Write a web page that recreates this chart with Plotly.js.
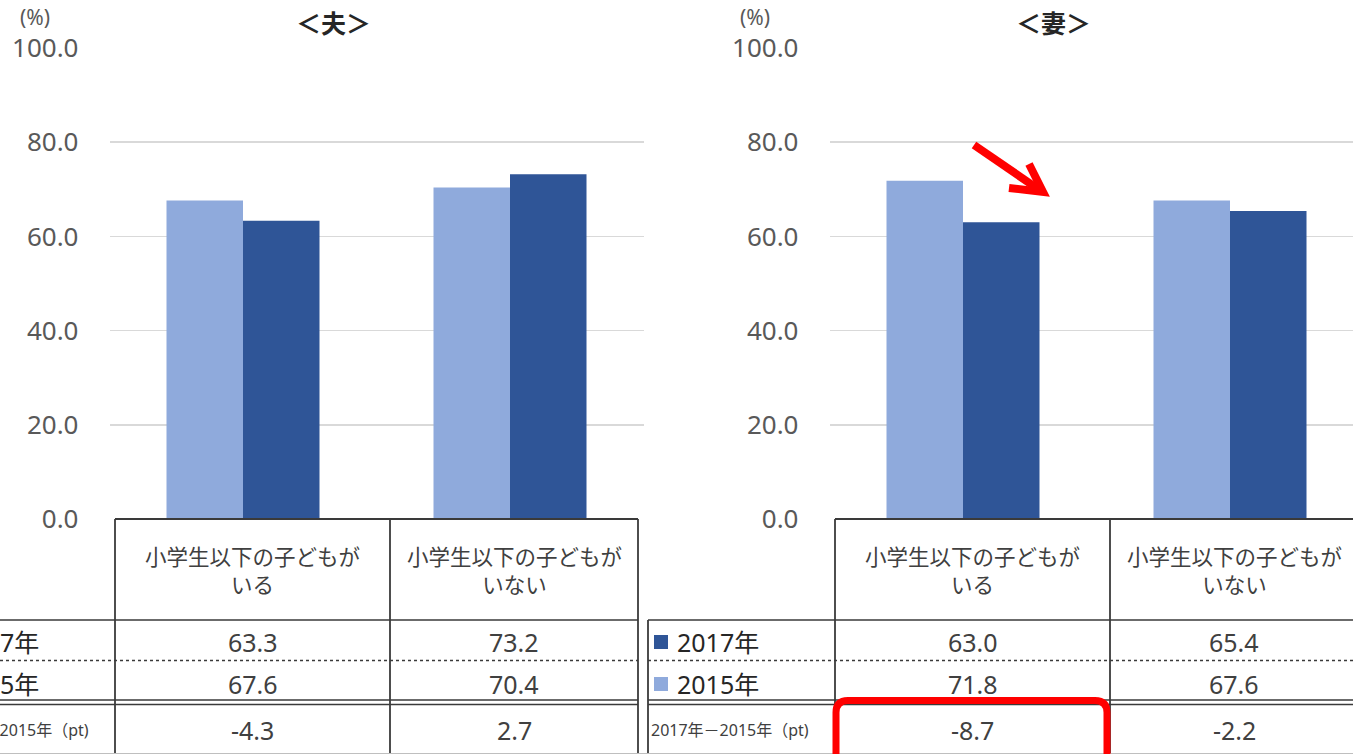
<!DOCTYPE html>
<html><head><meta charset="utf-8">
<script src="https://cdn.plot.ly/plotly-3.0.1.min.js"></script>
<style>html,body{margin:0;padding:0;background:#fff;overflow:hidden}#chart{width:1353px;height:754px}</style>
</head><body><div id="chart"></div>
<script>
// ---- data ----
const categories = ["小学生以下の子どもが<br>いる", "小学生以下の子どもが<br>いない"];
const panelTitles = ["＜夫＞", "＜妻＞"];
const seriesNames = ["2017年", "2015年"];
const husband2017 = [63.3, 73.2];
const husband2015 = [67.6, 70.4];
const wife2017 = [63.0, 65.4];
const wife2015 = [71.8, 67.6];
const husbandDiff = [-4.3, 2.7];
const wifeDiff = [-8.7, -2.2];
const diffLabel = "2017年－2015年（pt)";
const yTickVals = [0, 20, 40, 60, 80, 100];
const unitLabel = "(%)";

// ---- styling / layout constants ----
const W = 1353, H = 754;
const px = x => x / W;
const py = y => 1 - y / H;
const FONT = "'Noto Sans', 'Noto Sans CJK JP', sans-serif";
const DARK = "#2F5597", LIGHT = "#8FAADC";
const LINE = "#3a3a3a";
const panelOffset = [0, 720];
const plotLeft = 109.5, plotRight = 643.5;
const catWidth = (plotRight - plotLeft) / categories.length;
const yTop = 48, yZero = 519;
const colEdges = [115, 390, 638];
const labelLeft = -72;
const rowY = {header: 570, r2017: 642, r2015: 684, diff: 730};

const panels = [
  {s2017: husband2017, s2015: husband2015, diff: husbandDiff},
  {s2017: wife2017, s2015: wife2015, diff: wifeDiff}
];

const traces = [];
const shapes = [];
const annotations = [];
const layout = {
  width: W, height: H,
  margin: {l: 0, r: 0, t: 0, b: 0},
  paper_bgcolor: "#fff", plot_bgcolor: "rgba(0,0,0,0)",
  font: {family: FONT, color: "#404040"},
  barmode: "group", bargap: 0.427, bargroupgap: 0,
  showlegend: false,
  shapes: shapes, annotations: annotations
};

function hline(x0, x1, y, opts) {
  shapes.push(Object.assign({type: "line", xref: "paper", yref: "paper",
    x0: px(x0), x1: px(x1), y0: py(y), y1: py(y),
    line: {color: LINE, width: 1.6}}, opts || {}));
}
function vline(x, y0, y1, opts) {
  shapes.push(Object.assign({type: "line", xref: "paper", yref: "paper",
    x0: px(x), x1: px(x), y0: py(y0), y1: py(y1),
    line: {color: LINE, width: 1.8}}, opts || {}));
}
function text(t, x, y, size, opts) {
  annotations.push(Object.assign({text: t, xref: "paper", yref: "paper",
    x: px(x), y: py(y), xanchor: "center", yanchor: "middle", showarrow: false,
    font: {size: size, color: "#404040", family: FONT}}, opts || {}));
}

panels.forEach((p, k) => {
  const off = panelOffset[k];
  const sfx = k === 0 ? "" : "2";
  const d0 = px(plotLeft + off), d1 = Math.min(1, px(plotRight + off));
  const spanPx = (d1 - d0) * W;
  layout["xaxis" + sfx] = {
    domain: [d0, d1], type: "category", anchor: "y" + sfx,
    range: [-0.5, -0.5 + spanPx / catWidth],
    showticklabels: false, showgrid: false, zeroline: false, showline: false, fixedrange: true
  };
  layout["yaxis" + sfx] = {
    domain: [py(yZero), py(yTop)], range: [0, 100], anchor: "x" + sfx,
    tickvals: yTickVals, tickformat: ".1f", ticks: "", ticklabelstandoff: 30,
    showgrid: true, gridcolor: "#d9d9d9", gridwidth: 1.5, zeroline: false, showline: false,
    tickfont: {size: 26, color: "#595959", family: FONT}, fixedrange: true
  };
  traces.push({type: "bar", name: seriesNames[1], x: categories, y: p.s2015,
    xaxis: "x" + sfx, yaxis: "y" + sfx, marker: {color: LIGHT}, hoverinfo: "skip"});
  traces.push({type: "bar", name: seriesNames[0], x: categories, y: p.s2017,
    xaxis: "x" + sfx, yaxis: "y" + sfx, marker: {color: DARK}, hoverinfo: "skip"});

  // titles
  text(panelTitles[k], 333 + off, 23, 25, {font: {size: 25, color: "#262626", family: FONT, weight: "bold"}});
  text(unitLabel, 35 + off, 17, 21, {font: {size: 21, color: "#595959", family: FONT}});

  // table lines
  const right = Math.min(colEdges[2] + off, W + 5);
  hline(colEdges[0] + off, right, yZero, {line: {color: LINE, width: 2.2}});
  hline(labelLeft + off, right, 620);
  hline(labelLeft + off, right, 660.5, {line: {color: LINE, width: 1.5, dash: "dot"}});
  hline(labelLeft + off, right, 700, {line: {color: LINE, width: 1.5}});
  hline(labelLeft + off, right, 704.5, {line: {color: LINE, width: 1.5}});
  vline(labelLeft + off, 620, 760);
  colEdges.forEach(c => vline(c + off, yZero, 760));

  // header + values
  categories.forEach((c, i) => {
    const cx = (colEdges[i] + colEdges[i + 1]) / 2 + off;
    text(c, cx, rowY.header, 21.5, {font: {size: 21.5, color: "#404040", family: FONT}});
    text(p.s2017[i].toFixed(1), cx, rowY.r2017, 25);
    text(p.s2015[i].toFixed(1), cx, rowY.r2015, 25);
    text(p.diff[i].toFixed(1), cx, rowY.diff, 25);
  });

  // row labels with legend keys
  [[seriesNames[0], DARK, rowY.r2017], [seriesNames[1], LIGHT, rowY.r2015]].forEach(([lab, col, y]) => {
    shapes.push({type: "rect", xref: "paper", yref: "paper",
      x0: px(-66 + off), x1: px(-52 + off), y0: py(y - 7), y1: py(y + 7),
      fillcolor: col, line: {width: 0}});
    text(lab, -45 + off, y, 25, {xanchor: "left", font: {size: 25, color: "#262626", family: FONT}});
  });
  text(diffLabel, -71 + off, rowY.diff, 16, {xanchor: "left", font: {size: 16, color: "#404040", family: FONT}});
});

// bottom light border
hline(0, W, 753.5, {line: {color: "#bfbfbf", width: 1}});

// red highlight box (rounded)
const bx0 = 836, bx1 = 1107, by0 = 700.5, by1 = 775, r = 12;
const P = (x, y) => px(x) + "," + py(y);
shapes.push({type: "path", xref: "paper", yref: "paper",
  path: "M" + P(bx0, by1) + " L" + P(bx0, by0 + r) + " Q" + P(bx0, by0) + " " + P(bx0 + r, by0) +
        " L" + P(bx1 - r, by0) + " Q" + P(bx1, by0) + " " + P(bx1, by0 + r) + " L" + P(bx1, by1),
  line: {color: "#FF0000", width: 7}});

// red arrow
shapes.push({type: "line", xref: "paper", yref: "paper",
  x0: px(974), y0: py(145), x1: px(1041), y1: py(191), line: {color: "#FF0000", width: 8}});
shapes.push({type: "path", xref: "paper", yref: "paper",
  path: "M" + P(1029, 164) + " L" + P(1043, 192) + " L" + P(1009, 188),
  line: {color: "#FF0000", width: 8}});

Plotly.newPlot("chart", traces, layout, {displayModeBar: false, staticPlot: true});
</script></body></html>
